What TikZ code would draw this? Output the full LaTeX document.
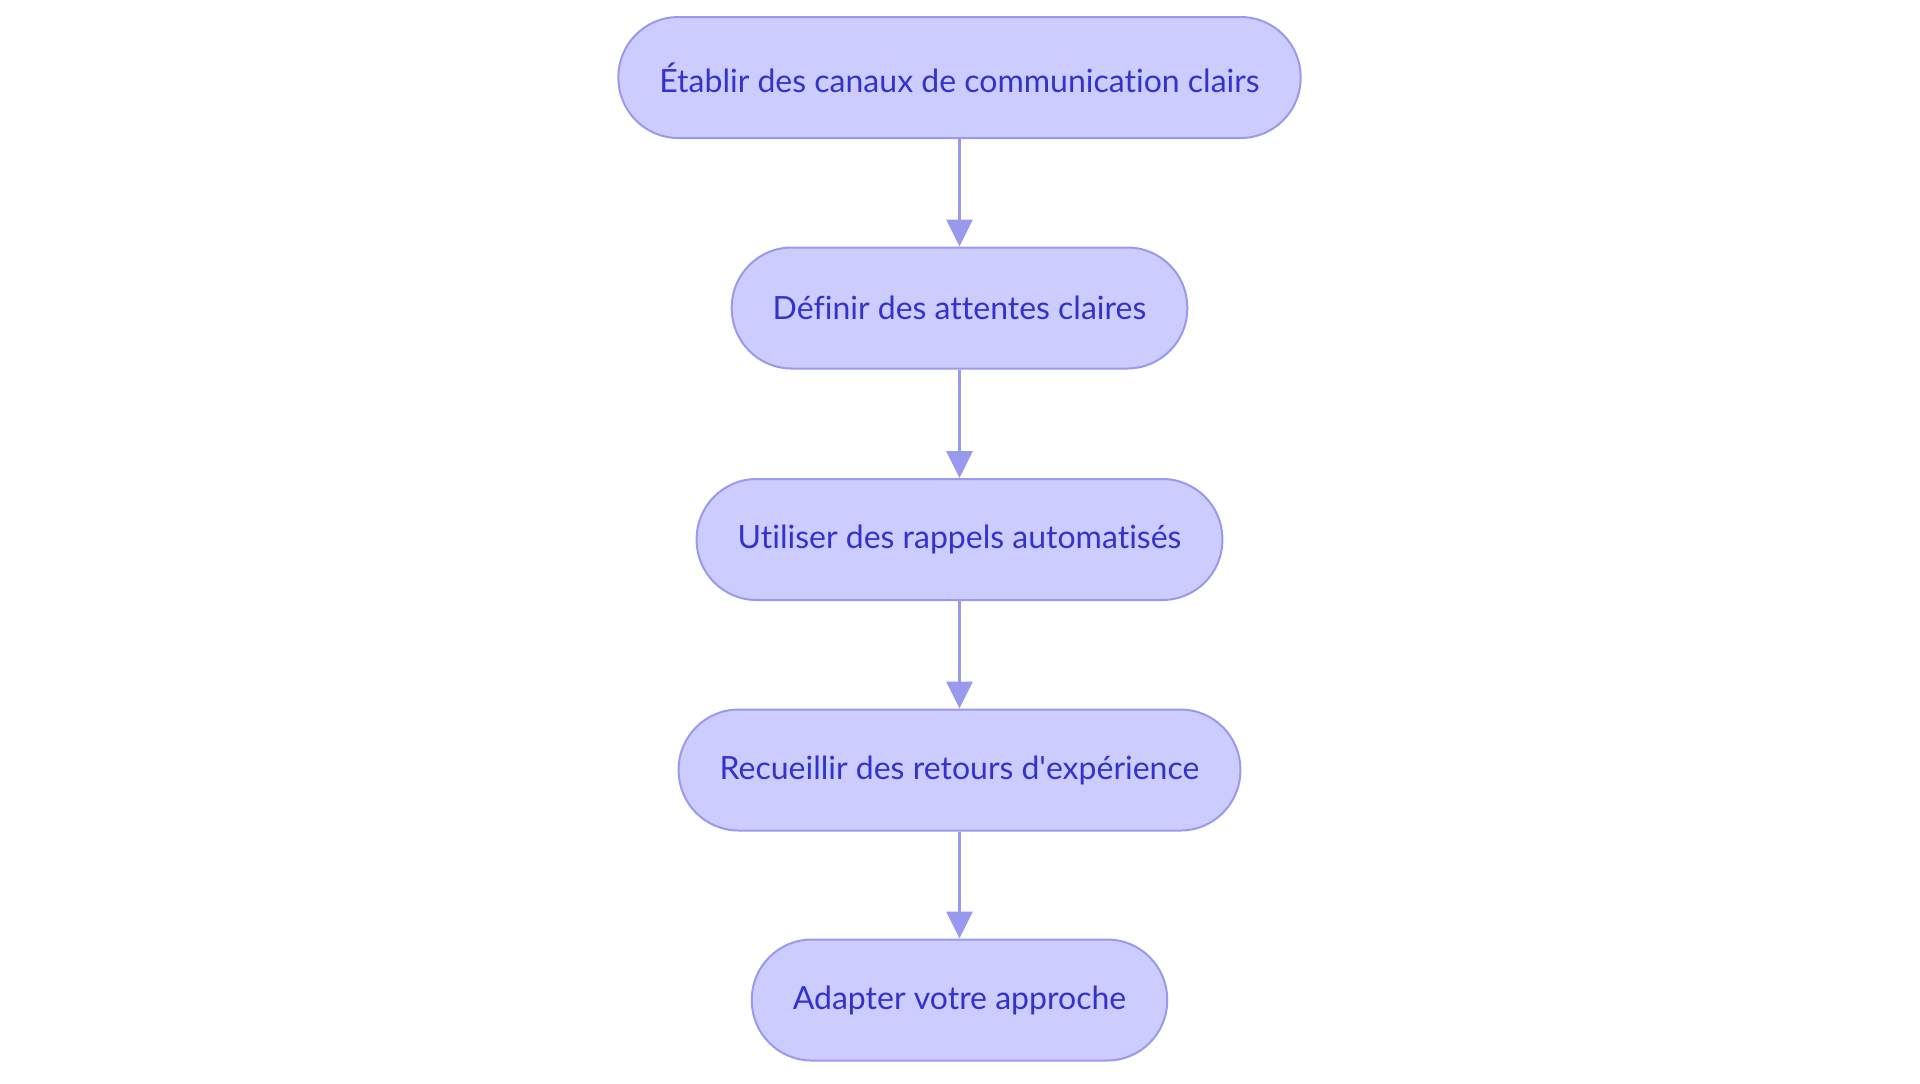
\documentclass[tikz,border=0pt]{standalone}
\usepackage{fontspec}
\setmainfont{Lato}[Ligatures={NoCommon}]
\usetikzlibrary{arrows.meta}

\definecolor{stepfill}{HTML}{CCCCFF}
\definecolor{stepline}{HTML}{9999EE}
\definecolor{steptext}{HTML}{3333CC}

\begin{document}
\begin{tikzpicture}[x=0.5pt,y=-0.5pt,
  stepbox/.style={draw=stepline,line width=1pt,fill=stepfill,text=steptext,
    rounded corners=30pt,minimum height=60.5pt,inner xsep=20.5pt,
    font=\fontsize{16}{20}\selectfont},
  flow/.style={draw=stepline,line width=1.5pt,-{Triangle[length=13.5pt,width=13pt]}}]
  \useasboundingbox (0,0) rectangle (1920,1083);
  \node[stepbox] (canaux) at (959.5,77.5) {Établir des canaux de communication clairs};
  \node[stepbox] (attentes) at (959.5,308) {Définir des attentes claires};
  \node[stepbox] (rappels) at (959.5,539.5) {Utiliser des rappels automatisés};
  \node[stepbox] (retours) at (959.5,770) {Recueillir des retours d\textquotesingle expérience};
  \node[stepbox] (approche) at (959.5,1000) {Adapter votre approche};
  \draw[flow] (canaux) -- (attentes);
  \draw[flow] (attentes) -- (rappels);
  \draw[flow] (rappels) -- (retours);
  \draw[flow] (retours) -- (approche);
\end{tikzpicture}
\end{document}
